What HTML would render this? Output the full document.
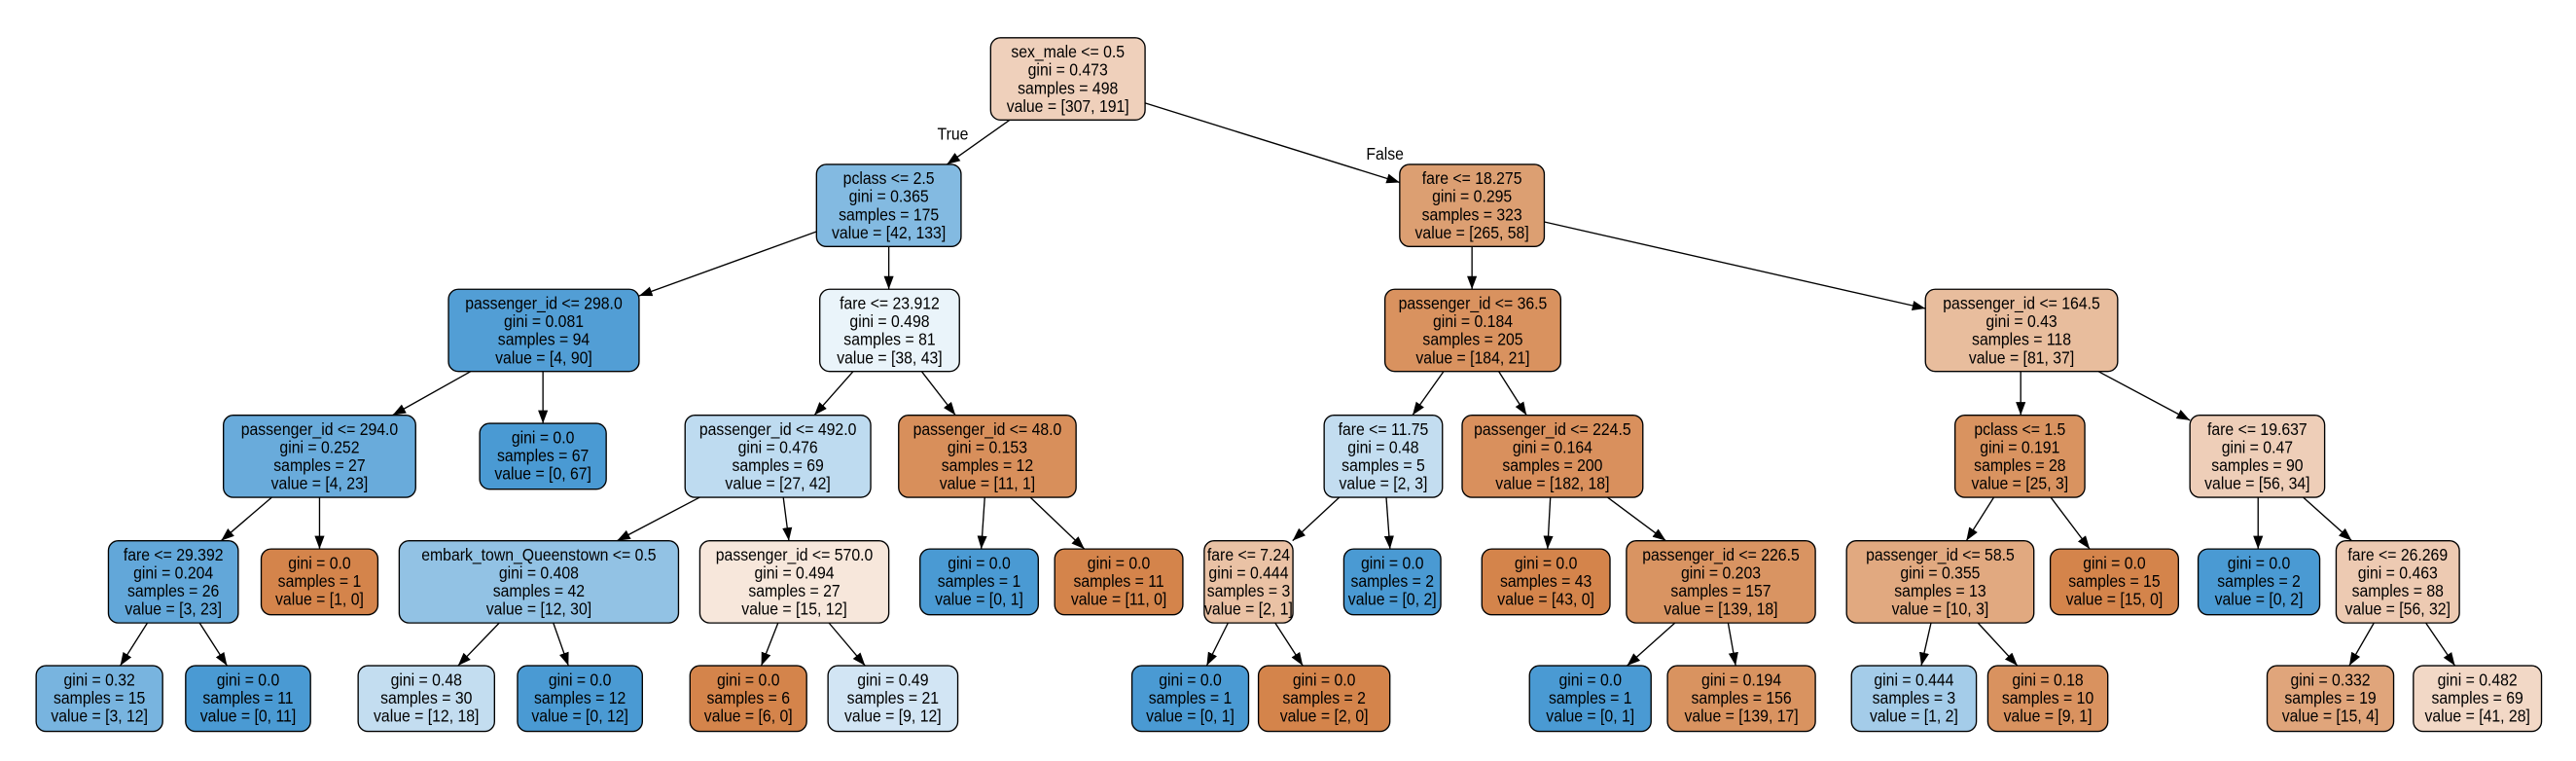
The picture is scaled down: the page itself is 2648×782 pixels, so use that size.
<!DOCTYPE html>
<html><head><meta charset="utf-8"><style>
html,body{margin:0;padding:0;background:#fff;}
svg{display:block;}
text{font-family:"Liberation Sans",Arial,sans-serif;font-size:10.4px;fill:#000;text-anchor:middle;transform-box:fill-box;transform-origin:center;transform:scaleX(0.9);}
rect{stroke:#000;stroke-width:0.8;filter:saturate(0.8);}
line{stroke:#000;stroke-width:0.8;}
</style></head><body>
<svg width="2648" height="782" viewBox="0 0 1568 463" preserveAspectRatio="none" xmlns="http://www.w3.org/2000/svg">
<defs><marker id="a" markerUnits="userSpaceOnUse" markerWidth="9" markerHeight="7" refX="8" refY="3" orient="auto"><path d="M0,0 L8,3 L0,6 z" fill="#000"/></marker></defs>
<g marker-end="url(#a)">
<line x1="614.6" y1="73" x2="576.4" y2="100"/>
<line x1="697" y1="62.7" x2="852" y2="111"/>
<line x1="497" y1="140.9" x2="389" y2="180"/>
<line x1="541" y1="150" x2="541" y2="176"/>
<line x1="896" y1="150" x2="896" y2="176"/>
<line x1="940" y1="135" x2="1172" y2="187.7"/>
<line x1="286.5" y1="226" x2="239" y2="252.6"/>
<line x1="330.5" y1="226" x2="330.5" y2="257.6"/>
<line x1="519.3" y1="226" x2="495.7" y2="252.6"/>
<line x1="561" y1="226" x2="581.6" y2="252.6"/>
<line x1="878.7" y1="226" x2="859.8" y2="252.6"/>
<line x1="912.3" y1="226" x2="929.2" y2="252.6"/>
<line x1="1230" y1="226" x2="1230" y2="252.6"/>
<line x1="1277.3" y1="226" x2="1333" y2="255.7"/>
<line x1="165.4" y1="302.6" x2="134.6" y2="329"/>
<line x1="194.5" y1="302.6" x2="194.5" y2="334"/>
<line x1="425.9" y1="302.6" x2="375.6" y2="329"/>
<line x1="476.8" y1="302.6" x2="480.2" y2="329"/>
<line x1="599.4" y1="302.6" x2="597.3" y2="334"/>
<line x1="627.2" y1="302.6" x2="660.1" y2="334"/>
<line x1="815.2" y1="302.6" x2="786.8" y2="329"/>
<line x1="843.8" y1="302.6" x2="846.1" y2="334"/>
<line x1="943.7" y1="302.6" x2="942" y2="334"/>
<line x1="978.5" y1="302.6" x2="1014" y2="329"/>
<line x1="1213.6" y1="302.6" x2="1196.9" y2="329"/>
<line x1="1248.3" y1="302.6" x2="1272" y2="334"/>
<line x1="1374.5" y1="302.6" x2="1374.5" y2="334"/>
<line x1="1402" y1="302.6" x2="1431.5" y2="329"/>
<line x1="89.7" y1="379" x2="73.2" y2="405"/>
<line x1="121.5" y1="379" x2="138.2" y2="405"/>
<line x1="303.9" y1="379" x2="278.8" y2="405"/>
<line x1="336.8" y1="379" x2="346" y2="405"/>
<line x1="473.6" y1="379" x2="463.4" y2="405"/>
<line x1="504.6" y1="379" x2="526.6" y2="405"/>
<line x1="747.5" y1="379" x2="734.5" y2="405"/>
<line x1="776.2" y1="379" x2="793" y2="405"/>
<line x1="1019.5" y1="379" x2="990.4" y2="405"/>
<line x1="1051.9" y1="379" x2="1056.5" y2="405"/>
<line x1="1175.4" y1="379" x2="1169.5" y2="405"/>
<line x1="1204" y1="379" x2="1228" y2="405"/>
<line x1="1445" y1="379" x2="1430" y2="405"/>
<line x1="1476.6" y1="379" x2="1494.3" y2="405"/>
</g>
<text x="580" y="85">True</text>
<text x="843" y="97">False</text>

<rect x="603" y="23" width="94" height="50" rx="6" fill="#f5cfb4"/>
<text x="650" y="35">sex_male &lt;= 0.5</text><text x="650" y="46">gini = 0.473</text><text x="650" y="57">samples = 498</text><text x="650" y="68">value = [307, 191]</text>
<rect x="497" y="100" width="88" height="50" rx="6" fill="#78bced"/>
<text x="541" y="112">pclass &lt;= 2.5</text><text x="541" y="123">gini = 0.365</text><text x="541" y="134">samples = 175</text><text x="541" y="145">value = [42, 133]</text>
<rect x="852" y="100" width="88" height="50" rx="6" fill="#e99d64"/>
<text x="896" y="112">fare &lt;= 18.275</text><text x="896" y="123">gini = 0.295</text><text x="896" y="134">samples = 323</text><text x="896" y="145">value = [265, 58]</text>
<rect x="273" y="176" width="116" height="50" rx="6" fill="#42a1e6"/>
<text x="331" y="188">passenger_id &lt;= 298.0</text><text x="331" y="199">gini = 0.081</text><text x="331" y="210">samples = 94</text><text x="331" y="221">value = [4, 90]</text>
<rect x="499" y="176" width="85" height="50" rx="6" fill="#e8f4fc"/>
<text x="541.5" y="188">fare &lt;= 23.912</text><text x="541.5" y="199">gini = 0.498</text><text x="541.5" y="210">samples = 81</text><text x="541.5" y="221">value = [38, 43]</text>
<rect x="843" y="176" width="107" height="50" rx="6" fill="#e88f50"/>
<text x="896.5" y="188">passenger_id &lt;= 36.5</text><text x="896.5" y="199">gini = 0.184</text><text x="896.5" y="210">samples = 205</text><text x="896.5" y="221">value = [184, 21]</text>
<rect x="1172" y="176" width="117" height="50" rx="6" fill="#f1bb93"/>
<text x="1230.5" y="188">passenger_id &lt;= 164.5</text><text x="1230.5" y="199">gini = 0.43</text><text x="1230.5" y="210">samples = 118</text><text x="1230.5" y="221">value = [81, 37]</text>
<rect x="136" y="252.6" width="117" height="50" rx="6" fill="#5baeea"/>
<text x="194.5" y="264.6">passenger_id &lt;= 294.0</text><text x="194.5" y="275.6">gini = 0.252</text><text x="194.5" y="286.6">samples = 27</text><text x="194.5" y="297.6">value = [4, 23]</text>
<rect x="292" y="257.6" width="77" height="40" rx="6" fill="#399de5"/>
<text x="330.5" y="269.6">gini = 0.0</text><text x="330.5" y="280.6">samples = 67</text><text x="330.5" y="291.6">value = [0, 67]</text>
<rect x="417" y="252.6" width="113" height="50" rx="6" fill="#b8dcf6"/>
<text x="473.5" y="264.6">passenger_id &lt;= 492.0</text><text x="473.5" y="275.6">gini = 0.476</text><text x="473.5" y="286.6">samples = 69</text><text x="473.5" y="297.6">value = [27, 42]</text>
<rect x="547" y="252.6" width="108" height="50" rx="6" fill="#e78c4b"/>
<text x="601" y="264.6">passenger_id &lt;= 48.0</text><text x="601" y="275.6">gini = 0.153</text><text x="601" y="286.6">samples = 12</text><text x="601" y="297.6">value = [11, 1]</text>
<rect x="806" y="252.6" width="72" height="50" rx="6" fill="#bddef6"/>
<text x="842" y="264.6">fare &lt;= 11.75</text><text x="842" y="275.6">gini = 0.48</text><text x="842" y="286.6">samples = 5</text><text x="842" y="297.6">value = [2, 3]</text>
<rect x="890" y="252.6" width="110" height="50" rx="6" fill="#e88d4d"/>
<text x="945" y="264.6">passenger_id &lt;= 224.5</text><text x="945" y="275.6">gini = 0.164</text><text x="945" y="286.6">samples = 200</text><text x="945" y="297.6">value = [182, 18]</text>
<rect x="1190" y="252.6" width="79" height="50" rx="6" fill="#e89051"/>
<text x="1229.5" y="264.6">pclass &lt;= 1.5</text><text x="1229.5" y="275.6">gini = 0.191</text><text x="1229.5" y="286.6">samples = 28</text><text x="1229.5" y="297.6">value = [25, 3]</text>
<rect x="1333" y="252.6" width="82" height="50" rx="6" fill="#f5cdb1"/>
<text x="1374" y="264.6">fare &lt;= 19.637</text><text x="1374" y="275.6">gini = 0.47</text><text x="1374" y="286.6">samples = 90</text><text x="1374" y="297.6">value = [56, 34]</text>
<rect x="66" y="329" width="79" height="50" rx="6" fill="#53aae8"/>
<text x="105.5" y="341">fare &lt;= 29.392</text><text x="105.5" y="352">gini = 0.204</text><text x="105.5" y="363">samples = 26</text><text x="105.5" y="374">value = [3, 23]</text>
<rect x="159" y="334" width="71" height="40" rx="6" fill="#e58139"/>
<text x="194.5" y="346">gini = 0.0</text><text x="194.5" y="357">samples = 1</text><text x="194.5" y="368">value = [1, 0]</text>
<rect x="243" y="329" width="170" height="50" rx="6" fill="#88c4ef"/>
<text x="328" y="341">embark_town_Queenstown &lt;= 0.5</text><text x="328" y="352">gini = 0.408</text><text x="328" y="363">samples = 42</text><text x="328" y="374">value = [12, 30]</text>
<rect x="426" y="329" width="115" height="50" rx="6" fill="#fae6d7"/>
<text x="483.5" y="341">passenger_id &lt;= 570.0</text><text x="483.5" y="352">gini = 0.494</text><text x="483.5" y="363">samples = 27</text><text x="483.5" y="374">value = [15, 12]</text>
<rect x="560" y="334" width="72" height="40" rx="6" fill="#399de5"/>
<text x="596" y="346">gini = 0.0</text><text x="596" y="357">samples = 1</text><text x="596" y="368">value = [0, 1]</text>
<rect x="642" y="334" width="78" height="40" rx="6" fill="#e58139"/>
<text x="681" y="346">gini = 0.0</text><text x="681" y="357">samples = 11</text><text x="681" y="368">value = [11, 0]</text>
<rect x="733" y="329" width="54" height="50" rx="6" fill="#f2c09c"/>
<text x="760" y="341">fare &lt;= 7.24</text><text x="760" y="352">gini = 0.444</text><text x="760" y="363">samples = 3</text><text x="760" y="374">value = [2, 1]</text>
<rect x="818" y="334" width="59" height="40" rx="6" fill="#399de5"/>
<text x="847.5" y="346">gini = 0.0</text><text x="847.5" y="357">samples = 2</text><text x="847.5" y="368">value = [0, 2]</text>
<rect x="902" y="334" width="78" height="40" rx="6" fill="#e58139"/>
<text x="941" y="346">gini = 0.0</text><text x="941" y="357">samples = 43</text><text x="941" y="368">value = [43, 0]</text>
<rect x="990" y="329" width="115" height="50" rx="6" fill="#e89153"/>
<text x="1047.5" y="341">passenger_id &lt;= 226.5</text><text x="1047.5" y="352">gini = 0.203</text><text x="1047.5" y="363">samples = 157</text><text x="1047.5" y="374">value = [139, 18]</text>
<rect x="1124" y="329" width="114" height="50" rx="6" fill="#eda774"/>
<text x="1181" y="341">passenger_id &lt;= 58.5</text><text x="1181" y="352">gini = 0.355</text><text x="1181" y="363">samples = 13</text><text x="1181" y="374">value = [10, 3]</text>
<rect x="1248" y="334" width="78" height="40" rx="6" fill="#e58139"/>
<text x="1287" y="346">gini = 0.0</text><text x="1287" y="357">samples = 15</text><text x="1287" y="368">value = [15, 0]</text>
<rect x="1338" y="334" width="74" height="40" rx="6" fill="#399de5"/>
<text x="1375" y="346">gini = 0.0</text><text x="1375" y="357">samples = 2</text><text x="1375" y="368">value = [0, 2]</text>
<rect x="1422" y="329" width="75" height="50" rx="6" fill="#f4c9aa"/>
<text x="1459.5" y="341">fare &lt;= 26.269</text><text x="1459.5" y="352">gini = 0.463</text><text x="1459.5" y="363">samples = 88</text><text x="1459.5" y="374">value = [56, 32]</text>
<rect x="22" y="405" width="77" height="40" rx="6" fill="#6bb6ec"/>
<text x="60.5" y="417">gini = 0.32</text><text x="60.5" y="428">samples = 15</text><text x="60.5" y="439">value = [3, 12]</text>
<rect x="113" y="405" width="76" height="40" rx="6" fill="#399de5"/>
<text x="151" y="417">gini = 0.0</text><text x="151" y="428">samples = 11</text><text x="151" y="439">value = [0, 11]</text>
<rect x="218" y="405" width="83" height="40" rx="6" fill="#bddef6"/>
<text x="259.5" y="417">gini = 0.48</text><text x="259.5" y="428">samples = 30</text><text x="259.5" y="439">value = [12, 18]</text>
<rect x="315" y="405" width="76" height="40" rx="6" fill="#399de5"/>
<text x="353" y="417">gini = 0.0</text><text x="353" y="428">samples = 12</text><text x="353" y="439">value = [0, 12]</text>
<rect x="420" y="405" width="71" height="40" rx="6" fill="#e58139"/>
<text x="455.5" y="417">gini = 0.0</text><text x="455.5" y="428">samples = 6</text><text x="455.5" y="439">value = [6, 0]</text>
<rect x="504" y="405" width="79" height="40" rx="6" fill="#cee6f8"/>
<text x="543.5" y="417">gini = 0.49</text><text x="543.5" y="428">samples = 21</text><text x="543.5" y="439">value = [9, 12]</text>
<rect x="689" y="405" width="71" height="40" rx="6" fill="#399de5"/>
<text x="724.5" y="417">gini = 0.0</text><text x="724.5" y="428">samples = 1</text><text x="724.5" y="439">value = [0, 1]</text>
<rect x="766" y="405" width="80" height="40" rx="6" fill="#e58139"/>
<text x="806" y="417">gini = 0.0</text><text x="806" y="428">samples = 2</text><text x="806" y="439">value = [2, 0]</text>
<rect x="931" y="405" width="74" height="40" rx="6" fill="#399de5"/>
<text x="968" y="417">gini = 0.0</text><text x="968" y="428">samples = 1</text><text x="968" y="439">value = [0, 1]</text>
<rect x="1015" y="405" width="90" height="40" rx="6" fill="#e89051"/>
<text x="1060" y="417">gini = 0.194</text><text x="1060" y="428">samples = 156</text><text x="1060" y="439">value = [139, 17]</text>
<rect x="1127" y="405" width="76" height="40" rx="6" fill="#9ccef2"/>
<text x="1165" y="417">gini = 0.444</text><text x="1165" y="428">samples = 3</text><text x="1165" y="439">value = [1, 2]</text>
<rect x="1210" y="405" width="73" height="40" rx="6" fill="#e88f4f"/>
<text x="1246.5" y="417">gini = 0.18</text><text x="1246.5" y="428">samples = 10</text><text x="1246.5" y="439">value = [9, 1]</text>
<rect x="1380" y="405" width="77" height="40" rx="6" fill="#eca36e"/>
<text x="1418.5" y="417">gini = 0.332</text><text x="1418.5" y="428">samples = 19</text><text x="1418.5" y="439">value = [15, 4]</text>
<rect x="1469" y="405" width="78" height="40" rx="6" fill="#f7d7c0"/>
<text x="1508" y="417">gini = 0.482</text><text x="1508" y="428">samples = 69</text><text x="1508" y="439">value = [41, 28]</text>
</svg>
</body></html>
